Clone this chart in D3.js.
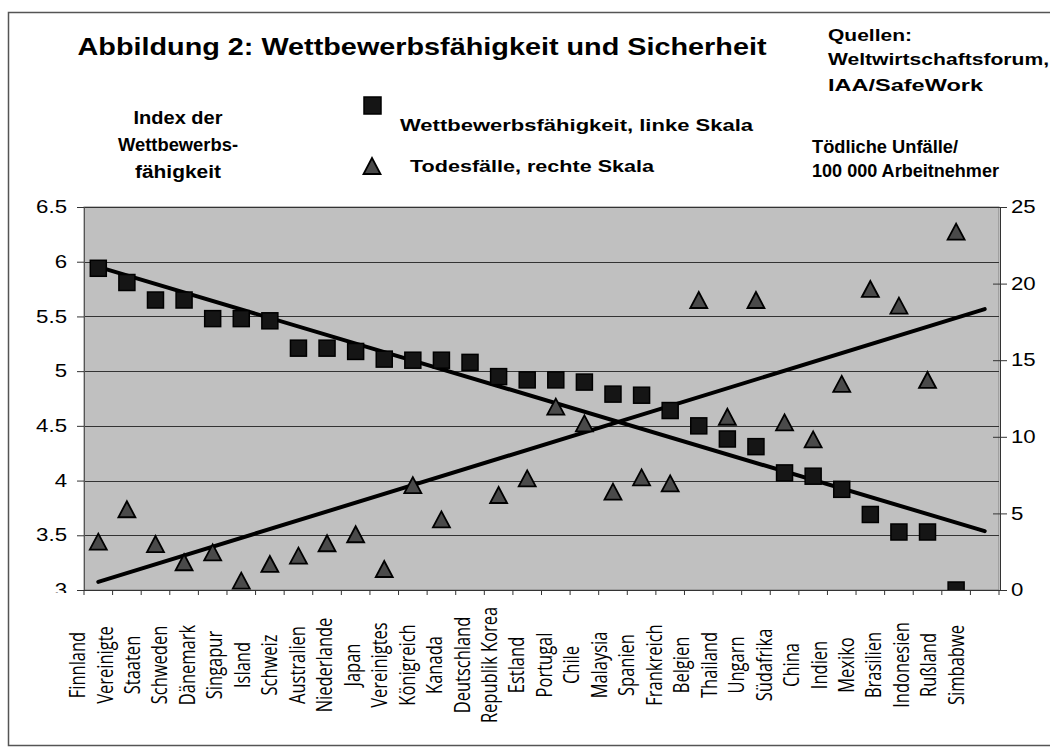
<!DOCTYPE html>
<html>
<head>
<meta charset="utf-8">
<script src="https://cdn.jsdelivr.net/npm/d3@7"></script>
<style>
  body { margin: 0; background: #fff; }
  text { font-family: "Liberation Sans", Arial, sans-serif; }
</style>
</head>
<body>
<div id="chart"></div>
<script>
const countries = [
    'Finnland', 'Vereinigte Staaten', 'Schweden', 'Dänemark', 'Singapur', 'Island',
    'Schweiz', 'Australien', 'Niederlande', 'Japan', 'Vereinigtes Königreich', 'Kanada',
    'Deutschland', 'Republik Korea', 'Estland', 'Portugal', 'Chile', 'Malaysia',
    'Spanien', 'Frankreich', 'Belgien', 'Thailand', 'Ungarn', 'Südafrika', 'China',
    'Indien', 'Mexiko', 'Brasilien', 'Indonesien', 'Rußland', 'Simbabwe'
];

// Wettbewerbsfähigkeit, linke Skala
const competitiveness = [
    5.94, 5.81, 5.65, 5.65, 5.48, 5.48, 5.46, 5.21, 5.21, 5.18, 5.11, 5.10,
    5.10, 5.08, 4.95, 4.92, 4.92, 4.90, 4.79, 4.78, 4.64, 4.50, 4.38, 4.31,
    4.07, 4.04, 3.92, 3.69, 3.53, 3.53, 3.00
];

// Todesfälle, rechte Skala (one value lies above the axis maximum)
const fatalities = [
    3.16, 5.27, 3.00, 1.81, 2.46, 0.61, 1.70, 2.24, 3.05, 3.64, 1.37, 6.85,
    4.61, 28.0, 6.20, 7.29, 11.97, 10.88, 6.42, 7.35, 6.96, 18.93, 11.31, 18.93,
    10.94, 9.83, 13.45, 19.65, 18.56, 13.71, 23.39
];

// category labels as printed under the axis
const xLabels = [
    'Finnland', 'Vereinigte', 'Staaten', 'Schweden', 'Dänemark', 'Singapur', 'Island',
    'Schweiz', 'Australien', 'Niederlande', 'Japan', 'Vereinigtes', 'Königreich', 'Kanada',
    'Deutschland', 'Republik Korea', 'Estland', 'Portugal', 'Chile', 'Malaysia', 'Spanien',
    'Frankreich', 'Belgien', 'Thailand', 'Ungarn', 'Südafrika', 'China', 'Indien',
    'Mexiko', 'Brasilien', 'Indonesien', 'Rußland', 'Simbabwe'
];

const leftTicks = [3, 3.5, 4, 4.5, 5, 5.5, 6, 6.5];
const rightTicks = [0, 5, 10, 15, 20, 25];

const width = 1050;
const height = 756;
const plot = { left: 84, right: 999, top: 207, bottom: 590 };
const stretch = 1.27; // the original is drawn horizontally widened

const svg = d3.select('#chart')
    .append('svg')
    .attr('width', width)
    .attr('height', height)
    .attr('viewBox', [0, 0, width, height]);

// outer frame
svg.append('rect')
    .attr('x', 8.5).attr('y', 12.5)
    .attr('width', 1050).attr('height', 733)
    .attr('fill', 'none')
    .attr('stroke', '#555')
    .attr('stroke-width', 1.5);

// one extra slot on the right for the forward trendline
const x = d3.scaleBand()
    .domain(d3.range(countries.length + 1))
    .range([plot.left, plot.right]);
const cx = i => x(i) + x.bandwidth() / 2;

const yL = d3.scaleLinear().domain([3, 6.5]).range([plot.bottom, plot.top]);
const yR = d3.scaleLinear().domain([0, 25]).range([plot.bottom, plot.top]);

const defs = svg.append('defs');
defs.append('clipPath')
    .attr('id', 'plot-clip')
    .append('rect')
    .attr('x', plot.left).attr('y', plot.top)
    .attr('width', plot.right - plot.left)
    .attr('height', plot.bottom - plot.top);
defs.append('clipPath')
    .attr('id', 'left-axis-clip')
    .append('rect')
    .attr('x', -plot.left).attr('y', 0)
    .attr('width', plot.left + 2).attr('height', 593);

svg.append('rect')
    .attr('x', plot.left).attr('y', plot.top)
    .attr('width', plot.right - plot.left)
    .attr('height', plot.bottom - plot.top)
    .attr('fill', '#c0c0c0')
    .attr('stroke', '#808080');

// gridlines
svg.append('g')
    .selectAll('line')
    .data(leftTicks)
    .join('line')
    .attr('x1', plot.left).attr('x2', plot.right)
    .attr('y1', d => Math.round(yL(d)) + 0.5)
    .attr('y2', d => Math.round(yL(d)) + 0.5)
    .attr('stroke', '#333')
    .attr('stroke-width', 1);

function widen(sel) {
    sel.each(function () {
        const w = this.getComputedTextLength();
        d3.select(this)
            .attr('textLength', w * stretch)
            .attr('lengthAdjust', 'spacingAndGlyphs');
    });
}

// axes
svg.append('g')
    .attr('transform', `translate(${plot.left},0)`)
    .attr('clip-path', 'url(#left-axis-clip)')
    .call(d3.axisLeft(yL).tickValues(leftTicks).tickSize(7).tickPadding(10).tickFormat(d => String(d)))
    .call(g => g.select('.domain').attr('stroke', '#555'))
    .call(g => g.selectAll('.tick line').attr('stroke', '#333'))
    .call(g => g.selectAll('text')
        .attr('font-size', 17.5)
        .attr('font-family', '"Liberation Sans", Arial, sans-serif')
        .attr('fill', '#000')
        .call(widen));

svg.append('g')
    .attr('transform', `translate(${plot.right + 1},0)`)
    .call(d3.axisRight(yR).tickValues(rightTicks).tickSize(7).tickPadding(4))
    .call(g => g.select('.domain').attr('stroke', '#333'))
    .call(g => g.selectAll('.tick line').attr('x1', -7).attr('stroke', '#333'))
    .call(g => g.selectAll('text')
        .attr('font-size', 17.5)
        .attr('font-family', '"Liberation Sans", Arial, sans-serif')
        .attr('fill', '#000')
        .call(widen));

// category axis: band boundaries as ticks
svg.append('g')
    .selectAll('line')
    .data(d3.range(countries.length + 2))
    .join('line')
    .attr('x1', i => (i <= countries.length ? x(i) : plot.right))
    .attr('x2', i => (i <= countries.length ? x(i) : plot.right))
    .attr('y1', plot.bottom)
    .attr('y2', plot.bottom + 5)
    .attr('stroke', '#333');
svg.append('line')
    .attr('x1', plot.left).attr('x2', plot.right)
    .attr('y1', plot.bottom + 0.5).attr('y2', plot.bottom + 0.5)
    .attr('stroke', '#333');

const xl = d3.scalePoint()
    .domain(d3.range(xLabels.length))
    .range([cx(0) - 21, cx(countries.length - 1)]);

svg.append('g')
    .selectAll('text')
    .data(xLabels)
    .join('text')
    .attr('transform', (d, i) => `translate(${xl(i)},665) scale(${stretch},1) rotate(-90)`)
    .attr('text-anchor', 'middle')
    .attr('dominant-baseline', 'central')
    .style('font-family', '"Open Sans", sans-serif')
    .attr('font-size', 16.5)
    .text(d => d);

// linear trendlines (least squares over category index)
function trend(values) {
    const pts = values.map((v, i) => [i, v]).filter(p => p[1] != null);
    const mx = d3.mean(pts, p => p[0]);
    const my = d3.mean(pts, p => p[1]);
    const b = d3.sum(pts, p => (p[0] - mx) * (p[1] - my)) / d3.sum(pts, p => (p[0] - mx) ** 2);
    const a = my - b * mx;
    return [0, countries.length].map(i => [i, a + b * i]);
}

const marks = svg.append('g').attr('clip-path', 'url(#plot-clip)');

const lineL = d3.line().x(d => cx(d[0])).y(d => yL(d[1]));
const lineR = d3.line().x(d => cx(d[0])).y(d => yR(d[1]));

marks.append('path')
    .attr('d', lineL(trend(competitiveness)))
    .attr('stroke', '#000').attr('stroke-width', 4).attr('fill', 'none')
    .attr('stroke-linecap', 'round');
marks.append('path')
    .attr('d', lineR(trend(fatalities)))
    .attr('stroke', '#000').attr('stroke-width', 4).attr('fill', 'none')
    .attr('stroke-linecap', 'round');

const tri = 'M0,-8L8.5,8L-8.5,8Z';

marks.append('g')
    .selectAll('path')
    .data(fatalities)
    .join('path')
    .attr('transform', (d, i) => `translate(${cx(i)},${yR(d)})`)
    .attr('d', tri)
    .attr('fill', '#4a4a4a')
    .attr('stroke', '#000')
    .attr('stroke-width', 1.8);

marks.append('g')
    .selectAll('rect')
    .data(competitiveness)
    .join('rect')
    .attr('x', (d, i) => cx(i) - 8)
    .attr('y', d => yL(d) - 8)
    .attr('width', 16).attr('height', 16)
    .attr('fill', '#151515')
    .attr('stroke', '#000')
    .attr('stroke-width', 1.5);

// titles and legend (widths taken from the original, which is widened)
const bold = (t, xPos, yPos, size, w, anchor) => svg.append('text')
    .attr('x', xPos).attr('y', yPos)
    .attr('font-size', size)
    .attr('font-weight', 'bold')
    .attr('text-anchor', anchor || 'start')
    .attr('textLength', w)
    .attr('lengthAdjust', 'spacingAndGlyphs')
    .text(t);

bold('Abbildung 2: Wettbewerbsfähigkeit und Sicherheit', 422, 55, 23.5, 689, 'middle');
bold('Quellen:', 828, 41, 16.5, 84);
bold('Weltwirtschaftsforum,', 828, 65, 16.5, 221);
bold('IAA/SafeWork', 828, 91, 16.5, 155);
bold('Index der', 178, 124, 17.5, 89, 'middle');
bold('Wettbewerbs-', 178, 151, 17.5, 120, 'middle');
bold('fähigkeit', 178, 178, 17.5, 86, 'middle');
bold('Tödliche Unfälle/', 812, 153, 17.5, 146);
bold('100 000 Arbeitnehmer', 812, 177, 17.5, 187);
bold('Wettbewerbsfähigkeit, linke Skala', 400, 131, 17, 353);
bold('Todesfälle, rechte Skala', 410, 172, 17, 244);

svg.append('rect')
    .attr('x', 364).attr('y', 97).attr('width', 17).attr('height', 17)
    .attr('fill', '#151515').attr('stroke', '#000').attr('stroke-width', 1.5);
svg.append('path')
    .attr('transform', 'translate(372,166)')
    .attr('d', tri)
    .attr('fill', '#4a4a4a').attr('stroke', '#000').attr('stroke-width', 1.8);

svg.node();
</script>
</body>
</html>
